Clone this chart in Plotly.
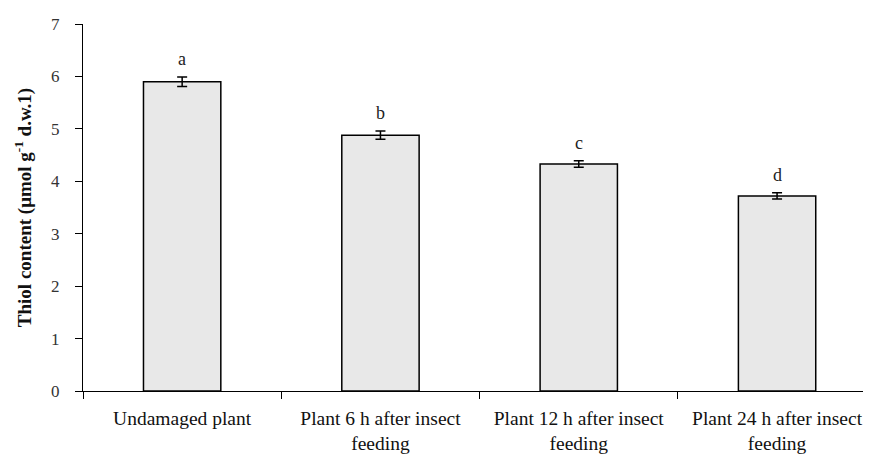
import plotly.graph_objects as go

categories = ["Undamaged plant", "Plant 6 h after insect<br>feeding",
              "Plant 12 h after insect<br>feeding", "Plant 24 h after insect<br>feeding"]
values = [5.90, 4.88, 4.33, 3.72]
errors = [0.09, 0.08, 0.06, 0.06]
letters = ["a", "b", "c", "d"]
y_ticks = [0, 1, 2, 3, 4, 5, 6, 7]

font_family = "Liberation Serif, Times New Roman, serif"

fig = go.Figure()
fig.add_trace(go.Bar(
    x=categories, y=values, width=0.39,
    marker=dict(color="#e8e8e8", line=dict(color="black", width=1.5)),
    error_y=dict(type="data", array=errors, color="black", thickness=1.5, width=5),
))

for c, v, e, l in zip(categories, values, errors, letters):
    fig.add_annotation(x=c, y=v + e, text=l, showarrow=False, yanchor="bottom",
                       yshift=6, font=dict(family=font_family, size=18, color="#222"))

fig.update_layout(
    width=871, height=454,
    margin=dict(l=75, r=0, t=16, b=71),
    paper_bgcolor="white", plot_bgcolor="white",
    showlegend=False,
    font=dict(family=font_family, size=18, color="#222"),
    bargap=0.6,
)
fig.update_xaxes(
    type="category", range=[-0.5, 3.514], automargin=False,
    showline=True, linecolor="black", linewidth=1.2,
    ticks="outside", tickson="boundaries", ticklen=7, tickcolor="black",
    showgrid=False, ticklabelstandoff=9,
    tickfont=dict(family=font_family, size=19.5, color="#111"),
)
fig.update_yaxes(
    range=[0, 7], tickvals=y_ticks, automargin=False,
    showline=True, linecolor="black", linewidth=1.2,
    ticks="outside", ticklen=7, tickcolor="black",
    showgrid=False, zeroline=False, ticklabelstandoff=12,
    tickfont=dict(family=font_family, size=17, color="#333"),
    title=dict(text="<b>Thiol content (μmol g<sup>-1</sup> d.w.1)</b>",
               font=dict(family=font_family, size=19, color="#111"), standoff=14),
)

fig.write_html("out.html")
